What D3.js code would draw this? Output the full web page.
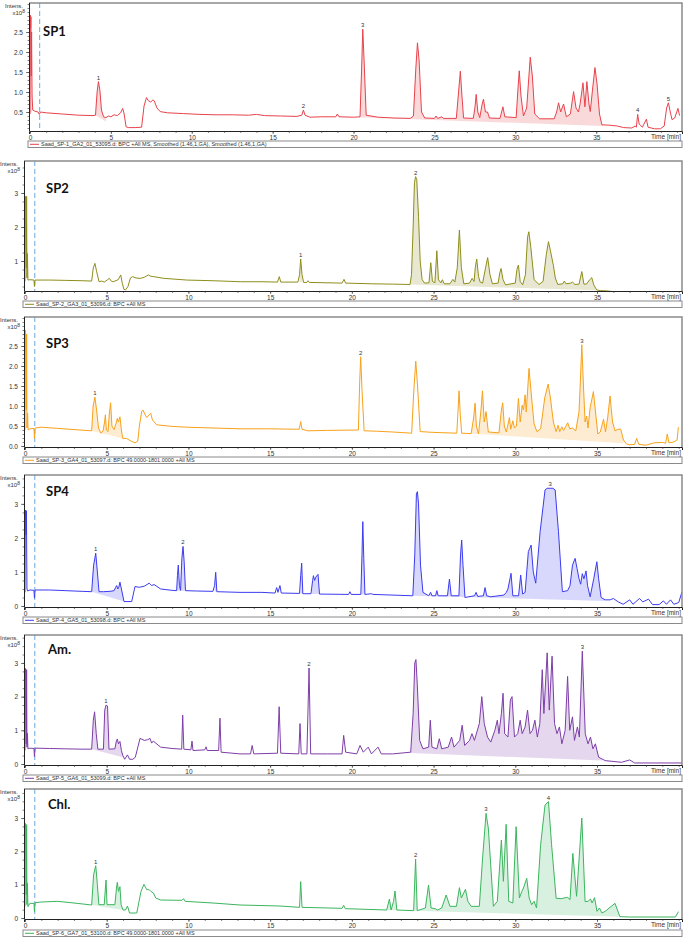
<!DOCTYPE html>
<html><head><meta charset="utf-8">
<script src="https://cdn.jsdelivr.net/npm/d3@7/dist/d3.min.js"></script>
<style>body{margin:0;background:#fff}svg{display:block}</style>
</head><body><svg id="c" width="687" height="938"></svg>
<script>
// ---------- DATA ----------
const panelNames = ["SP1","SP2","SP3","SP4","Am.","Chl."];
const legendTexts = [
 "Saad_SP-1_GA2_01_53095.d: BPC +All MS, Smoothed (1.46,1,GA), Smoothed (1.46,1,GA)",
 "Saad_SP-2_GA3_01_53096.d: BPC +All MS",
 "Saad_SP-3_GA4_01_53097.d: BPC 49.0000-1801.0000 +All MS",
 "Saad_SP-4_GA5_01_53098.d: BPC +All MS",
 "Saad_SP-5_GA6_01_53099.d: BPC +All MS",
 "Saad_SP-6_GA7_01_53100.d: BPC 49.0000-1801.0000 +All MS"];
const xTickLabels = [0,5,10,15,20,25,30,35];
const xMinorTicks = d3.range(0,41,1);
const yTicksSP1 = [0.5,1.0,1.5,2.0,2.5];
const yTicksSP2 = [1,2,3];
const yTicksSP3 = [0.0,0.5,1.0,1.5,2.0,2.5];
const yTicksSP4 = [0,1,2,3];
const yTicksAm = [0,1,2,3];
const yTicksChl = [0,1,2,3];

const sp1 = [[0,0.45],[0.02,2.92],[0.04,2.6],[0.06,2.88],[0.08,1.4],[0.10,2.5],[0.13,0.9],[0.17,0.55],[0.3,0.52],[0.5,0.50],[0.58,0.44],[0.65,0.50],[1.0,0.48],[2.0,0.45],[3.0,0.42],[3.9,0.41],[4.05,0.42],[4.15,1.0],[4.23,1.26],[4.32,1.05],[4.42,0.55],[4.55,0.38],[4.7,0.36],[4.85,0.40],[5.0,0.38],[5.2,0.43],[5.4,0.41],[5.6,0.48],[5.73,0.59],[5.82,0.45],[5.94,0.13],[6.1,0.11],[6.5,0.11],[6.9,0.12],[7.05,0.65],[7.2,0.86],[7.32,0.78],[7.46,0.75],[7.6,0.80],[7.68,0.78],[7.85,0.6],[8.05,0.51],[8.5,0.48],[9.5,0.46],[10.5,0.44],[11.5,0.43],[12.5,0.43],[13.5,0.42],[14.0,0.44],[14.5,0.41],[15.5,0.40],[16.5,0.39],[16.8,0.42],[16.9,0.55],[17.0,0.42],[17.3,0.37],[18.0,0.38],[18.9,0.38],[19.0,0.45],[19.1,0.38],[20.0,0.37],[20.4,0.38],[20.5,1.6],[20.57,2.57],[20.65,1.8],[20.78,0.42],[21.5,0.37],[22.5,0.35],[23.5,0.34],[23.7,0.40],[23.85,1.6],[23.95,2.23],[24.05,1.8],[24.2,0.5],[24.4,0.35],[25.0,0.34],[25.1,0.4],[25.2,0.34],[25.45,0.38],[25.55,0.34],[26.35,0.34],[26.47,0.9],[26.6,1.52],[26.7,0.9],[26.8,0.35],[27.4,0.34],[27.5,0.6],[27.58,0.94],[27.68,0.5],[27.8,0.36],[27.95,0.7],[28.03,0.82],[28.15,0.5],[28.28,0.5],[28.4,0.35],[29.05,0.34],[29.15,0.5],[29.23,0.63],[29.35,0.38],[30.05,0.36],[30.15,1.0],[30.24,1.53],[30.35,0.9],[30.5,0.40],[30.7,0.6],[30.92,1.87],[31.05,1.4],[31.2,0.45],[31.5,0.33],[32.4,0.33],[32.55,0.5],[32.67,0.73],[32.8,0.5],[32.98,0.70],[33.15,0.38],[33.4,0.45],[33.6,1.01],[33.75,0.6],[33.9,0.5],[34.01,0.72],[34.18,1.23],[34.3,0.63],[34.42,1.26],[34.55,0.7],[34.63,0.51],[34.78,1.1],[34.92,1.61],[35.05,1.2],[35.2,0.45],[35.35,0.18],[35.8,0.17],[36.3,0.15],[36.7,0.11],[37.2,0.10],[37.4,0.15],[37.48,0.12],[37.56,0.44],[37.65,0.2],[37.85,0.12],[38.1,0.32],[38.2,0.12],[38.6,0.08],[38.96,0.08],[39.2,0.15],[39.35,0.6],[39.46,0.73],[39.55,0.55],[39.68,0.31],[39.85,0.35],[40.05,0.59],[40.15,0.41]];
const sp2 = [[0,0.4],[0.02,2.9],[0.05,2.8],[0.08,0.8],[0.1,2.9],[0.12,0.5],[0.15,1.22],[0.18,0.44],[0.3,0.45],[0.55,0.44],[0.58,0.25],[0.61,0.44],[1.5,0.44],[2.5,0.43],[3.5,0.42],[4.08,0.41],[4.18,0.8],[4.28,0.93],[4.38,0.7],[4.53,0.39],[4.7,0.41],[4.85,0.38],[5.05,0.45],[5.16,0.49],[5.3,0.4],[5.4,0.39],[5.7,0.45],[5.86,0.59],[5.95,0.35],[6.05,0.17],[6.15,0.15],[6.3,0.25],[6.45,0.5],[6.59,0.54],[6.8,0.5],[7.06,0.49],[7.3,0.52],[7.55,0.59],[7.7,0.55],[7.87,0.54],[8.5,0.49],[9.9,0.44],[11.5,0.42],[13.2,0.39],[14.5,0.39],[15.45,0.38],[15.56,0.54],[15.65,0.38],[16.7,0.38],[16.8,0.6],[16.87,1.06],[16.95,0.6],[17.05,0.37],[17.25,0.37],[17.32,0.42],[17.4,0.37],[19.4,0.35],[19.52,0.46],[19.62,0.35],[21.2,0.33],[22.5,0.32],[23.56,0.31],[23.65,0.6],[23.75,2.0],[23.83,3.3],[23.9,3.48],[23.97,3.4],[24.08,2.3],[24.18,1.0],[24.3,0.45],[24.45,0.35],[24.72,0.36],[24.83,0.95],[24.93,0.4],[25.08,0.36],[25.2,1.3],[25.3,0.45],[25.45,0.36],[25.54,0.45],[25.65,0.33],[26.0,0.33],[26.18,0.46],[26.3,0.38],[26.45,0.8],[26.58,1.91],[26.7,0.8],[26.85,0.33],[27.2,0.35],[27.36,0.49],[27.48,0.4],[27.55,0.8],[27.64,1.06],[27.75,0.55],[27.85,0.38],[28.0,0.35],[28.18,0.8],[28.31,1.1],[28.45,0.6],[28.6,0.33],[28.95,0.35],[29.05,0.65],[29.13,0.78],[29.25,0.45],[29.4,0.30],[30.0,0.35],[30.1,0.75],[30.19,0.88],[30.3,0.4],[30.45,0.30],[30.62,0.6],[30.75,1.7],[30.83,1.86],[30.95,1.4],[31.15,0.45],[31.45,0.31],[31.7,0.4],[31.9,1.2],[32.03,1.57],[32.15,1.3],[32.33,0.87],[32.45,0.5],[32.6,0.31],[32.9,0.33],[33.0,0.41],[33.1,0.33],[33.4,0.35],[33.5,0.38],[33.65,0.31],[33.9,0.32],[34.07,0.69],[34.2,0.32],[34.35,0.32],[34.55,0.45],[34.68,0.51],[34.8,0.3],[34.98,0.15],[35.2,0.13],[35.6,0.12],[36.0,0.10],[40.2,0.10]];
const sp3 = [[0,0.4],[0.02,2.9],[0.05,2.75],[0.08,0.9],[0.1,2.8],[0.12,0.45],[0.16,0.82],[0.19,0.4],[0.3,0.43],[0.55,0.44],[0.58,0.19],[0.62,0.45],[1.0,0.47],[2.0,0.44],[3.0,0.41],[4.08,0.38],[4.17,1.0],[4.28,1.22],[4.38,0.9],[4.5,0.45],[4.65,0.32],[4.78,0.38],[4.87,0.6],[4.92,0.78],[4.98,0.4],[5.08,0.36],[5.16,0.8],[5.24,1.08],[5.32,0.5],[5.45,0.41],[5.6,0.6],[5.65,0.69],[5.72,0.6],[5.81,0.73],[5.9,0.4],[5.98,0.19],[6.2,0.19],[6.5,0.12],[6.73,0.08],[6.9,0.12],[7.0,0.5],[7.14,0.86],[7.22,0.9],[7.35,0.78],[7.45,0.71],[7.6,0.78],[7.69,0.82],[7.8,0.65],[8.06,0.53],[9.0,0.49],[9.9,0.47],[11.5,0.45],[13.16,0.43],[15.0,0.43],[16.4,0.42],[16.78,0.42],[16.87,0.61],[16.95,0.42],[17.3,0.38],[18.5,0.39],[20.4,0.40],[20.48,1.6],[20.54,2.23],[20.62,1.4],[20.75,0.38],[21.5,0.37],[22.5,0.35],[23.66,0.32],[23.78,1.3],[23.91,2.12],[24.02,1.5],[24.18,0.36],[25.0,0.34],[26.42,0.32],[26.5,0.9],[26.56,1.38],[26.63,0.8],[26.72,0.32],[27.3,0.31],[27.45,0.7],[27.54,1.07],[27.62,0.5],[27.75,0.3],[27.9,0.9],[27.99,1.38],[28.1,0.6],[28.21,0.86],[28.35,0.35],[29.0,0.33],[29.15,0.9],[29.23,1.08],[29.33,0.5],[29.45,0.35],[29.64,0.71],[29.72,0.42],[29.85,0.63],[29.95,0.45],[30.07,0.5],[30.19,1.19],[30.3,0.6],[30.42,1.02],[30.5,0.9],[30.6,1.28],[30.67,0.85],[30.84,1.94],[31.0,1.2],[31.15,0.55],[31.32,0.36],[31.55,0.43],[31.8,1.2],[32.01,1.55],[32.15,1.2],[32.33,0.6],[32.5,0.36],[32.62,0.52],[32.72,0.36],[32.85,0.48],[32.95,0.39],[33.1,0.5],[33.21,0.58],[33.33,0.43],[33.5,0.45],[33.7,0.38],[33.9,0.86],[33.98,1.6],[34.07,2.53],[34.17,1.5],[34.27,0.6],[34.37,0.75],[34.45,0.45],[34.58,0.96],[34.78,1.36],[34.92,0.8],[35.05,0.3],[35.2,0.35],[35.4,0.67],[35.52,0.35],[35.65,0.7],[35.8,1.25],[35.95,0.6],[36.1,0.38],[36.3,0.42],[36.45,0.42],[36.62,0.15],[36.8,0.05],[37.0,0.03],[37.3,0.04],[37.43,0.19],[37.55,0.04],[38.0,0.02],[38.5,0.08],[39.0,0.09],[39.2,0.07],[39.3,0.3],[39.4,0.08],[39.7,0.1],[39.9,0.15],[39.98,0.47]];
const sp4 = [[0,0.4],[0.02,2.82],[0.05,2.6],[0.07,2.09],[0.09,2.8],[0.12,0.5],[0.16,0.44],[0.3,0.47],[0.55,0.46],[0.58,0.23],[0.62,0.47],[1.5,0.47],[2.5,0.45],[3.5,0.43],[4.08,0.42],[4.2,1.2],[4.33,1.55],[4.43,1.0],[4.53,0.42],[4.8,0.42],[5.2,0.43],[5.45,0.45],[5.55,0.55],[5.61,0.6],[5.68,0.5],[5.74,0.55],[5.81,0.7],[5.9,0.5],[6.06,0.13],[6.3,0.13],[6.53,0.13],[6.73,0.57],[7.0,0.55],[7.3,0.58],[7.6,0.67],[7.75,0.6],[7.9,0.63],[8.3,0.5],[9.0,0.46],[9.28,0.45],[9.33,0.9],[9.38,1.2],[9.45,0.6],[9.52,0.46],[9.6,1.4],[9.67,1.75],[9.74,1.3],[9.82,0.45],[10.5,0.44],[11.5,0.43],[11.6,0.6],[11.67,0.99],[11.74,0.42],[13.16,0.4],[14.5,0.4],[15.3,0.38],[15.4,0.54],[15.48,0.4],[15.6,0.6],[15.68,0.38],[16.8,0.37],[16.87,0.9],[16.93,1.26],[17.0,0.36],[17.5,0.36],[17.6,0.75],[17.65,0.89],[17.72,0.75],[17.8,0.85],[17.93,0.93],[18.02,0.35],[19.8,0.34],[19.88,0.42],[19.96,0.34],[20.55,0.34],[20.62,1.5],[20.67,2.48],[20.73,1.4],[20.8,0.34],[21.2,0.36],[21.3,0.34],[23.73,0.3],[23.85,1.5],[23.95,3.3],[24.01,3.36],[24.08,3.0],[24.2,1.2],[24.35,0.4],[24.7,0.3],[24.82,0.4],[24.9,0.3],[25.12,0.3],[25.2,0.45],[25.28,0.3],[25.85,0.3],[25.97,0.79],[26.08,0.3],[26.55,0.3],[26.65,1.5],[26.72,1.94],[26.8,1.2],[26.92,0.25],[27.5,0.3],[27.6,0.4],[27.7,0.28],[28.05,0.3],[28.15,0.54],[28.25,0.3],[28.5,0.27],[29.3,0.32],[29.45,0.4],[29.55,0.5],[29.74,0.96],[29.85,0.3],[30.2,0.3],[30.33,0.91],[30.45,0.35],[30.6,0.4],[30.8,1.6],[30.97,1.79],[31.1,1.0],[31.25,0.67],[31.52,2.19],[31.82,3.41],[31.95,3.46],[32.13,3.46],[32.3,3.46],[32.44,3.41],[32.64,2.19],[32.88,0.42],[33.2,0.45],[33.35,0.6],[33.5,1.2],[33.66,1.4],[33.78,1.1],[33.9,0.8],[34.0,0.64],[34.1,0.95],[34.2,0.8],[34.33,1.03],[34.42,0.6],[34.58,0.27],[34.8,0.8],[34.99,1.3],[35.1,0.8],[35.25,0.25],[35.5,0.18],[35.8,0.18],[36.0,0.22],[36.3,0.12],[36.6,0.05],[37.0,0.18],[37.2,0.05],[37.6,0.22],[37.8,0.12],[38.15,0.2],[38.4,0.04],[38.8,0.04],[39.06,0.15],[39.25,0.05],[39.5,0.18],[39.7,0.05],[40.0,0.1],[40.2,0.42]];
const spAm = [[0,0.4],[0.02,2.84],[0.05,2.7],[0.08,0.6],[0.1,2.8],[0.12,0.5],[0.15,0.91],[0.18,0.45],[0.3,0.47],[0.55,0.46],[0.58,0.22],[0.62,0.47],[1.5,0.46],[2.5,0.45],[3.5,0.44],[4.08,0.44],[4.18,1.3],[4.26,1.55],[4.36,0.9],[4.46,0.44],[4.8,0.44],[4.88,1.6],[4.96,1.75],[5.05,1.72],[5.14,0.44],[5.5,0.45],[5.6,0.7],[5.65,0.74],[5.72,0.6],[5.81,0.67],[5.9,0.4],[5.98,0.26],[6.1,0.14],[6.27,0.27],[6.4,0.14],[6.6,0.14],[6.75,0.2],[7.04,0.76],[7.3,0.7],[7.5,0.72],[7.65,0.76],[7.75,0.62],[7.85,0.68],[8.3,0.5],[9.0,0.46],[9.59,0.44],[9.65,1.45],[9.72,0.44],[10.15,0.42],[10.22,0.68],[10.28,0.4],[11.0,0.42],[11.08,0.51],[11.15,0.4],[11.85,0.4],[11.93,1.36],[12.0,0.35],[13.16,0.3],[13.8,0.3],[13.9,0.55],[14.0,0.3],[15.45,0.32],[15.55,1.7],[15.65,0.32],[16.75,0.3],[16.83,1.2],[16.9,0.3],[17.25,0.3],[17.38,2.85],[17.48,0.3],[18.5,0.3],[19.4,0.3],[19.5,0.85],[19.62,0.35],[20.3,0.3],[20.5,0.55],[20.7,0.35],[21.0,0.5],[21.2,0.3],[21.6,0.5],[21.8,0.3],[22.5,0.3],[23.6,0.35],[23.75,1.5],[23.85,3.0],[23.92,3.1],[24.0,2.4],[24.15,0.7],[24.35,0.45],[24.7,0.5],[24.8,1.3],[24.9,0.5],[25.2,0.45],[25.35,0.75],[25.5,0.45],[25.9,0.5],[26.1,0.8],[26.25,0.5],[26.6,0.7],[26.75,1.15],[26.9,0.55],[27.2,0.7],[27.35,0.9],[27.5,0.7],[27.8,1.2],[27.95,2.0],[28.1,1.2],[28.3,0.8],[28.5,0.65],[28.75,1.0],[28.9,1.3],[29.0,0.9],[29.15,1.5],[29.25,2.1],[29.35,0.9],[29.55,0.8],[29.7,1.9],[29.8,2.0],[29.95,0.8],[30.15,0.9],[30.3,1.3],[30.42,0.9],[30.6,1.1],[30.75,1.6],[30.9,0.9],[31.05,1.0],[31.2,1.3],[31.35,0.8],[31.5,1.2],[31.65,2.8],[31.75,1.5],[31.95,3.3],[32.08,1.6],[32.25,3.2],[32.4,1.2],[32.55,0.9],[32.7,1.1],[32.85,0.6],[33.05,1.0],[33.2,2.6],[33.33,1.0],[33.5,1.4],[33.62,0.7],[33.8,1.1],[33.92,0.8],[34.1,3.35],[34.28,0.9],[34.45,0.6],[34.6,0.8],[34.75,0.45],[34.9,0.6],[35.1,0.2],[35.5,0.1],[36.5,0.05],[37.0,0.12],[37.3,0.03],[40.2,0.03]];
const spChl = [[0,0.35],[0.02,2.84],[0.05,2.7],[0.08,0.7],[0.1,2.8],[0.12,0.4],[0.15,1.04],[0.18,0.34],[0.3,0.44],[0.55,0.44],[0.58,0.19],[0.62,0.46],[1.0,0.48],[2.0,0.5],[3.0,0.45],[4.08,0.39],[4.2,1.3],[4.33,1.57],[4.43,1.0],[4.52,0.4],[4.85,0.4],[4.92,0.9],[4.96,1.14],[5.02,0.4],[5.5,0.4],[5.6,0.9],[5.65,1.07],[5.72,0.8],[5.81,0.94],[5.88,0.4],[6.0,0.24],[6.15,0.24],[6.27,0.36],[6.4,0.15],[6.84,0.15],[7.1,0.8],[7.28,1.01],[7.45,0.85],[7.6,0.85],[7.7,0.8],[7.86,0.75],[8.0,0.6],[8.3,0.54],[9.6,0.53],[9.7,0.58],[9.8,0.5],[11.5,0.45],[13.16,0.39],[15.6,0.36],[16.8,0.32],[16.87,1.09],[16.95,0.32],[19.4,0.29],[19.5,0.38],[19.6,0.28],[22.13,0.24],[22.3,0.57],[22.4,0.24],[22.55,0.5],[22.64,0.81],[22.75,0.24],[23.78,0.22],[23.9,1.77],[24.0,0.22],[24.5,0.3],[24.69,0.99],[24.85,0.3],[25.1,0.28],[25.25,0.24],[25.5,0.3],[25.77,0.69],[26.0,0.35],[26.4,0.35],[26.58,0.91],[26.7,0.6],[26.95,0.86],[27.1,0.5],[27.3,0.35],[27.8,0.35],[28.0,1.8],[28.21,3.14],[28.35,2.7],[28.66,0.35],[28.9,0.5],[29.15,2.34],[29.27,1.1],[29.44,2.81],[29.6,0.5],[29.85,0.45],[30.05,2.74],[30.25,0.6],[30.4,0.8],[30.5,0.9],[30.7,1.19],[30.85,0.6],[31.0,0.4],[31.15,0.5],[31.3,0.3],[31.55,2.2],[31.82,3.39],[32.03,3.49],[32.22,2.2],[32.5,0.59],[32.8,0.58],[33.2,0.62],[33.35,0.55],[33.52,1.94],[33.75,0.65],[34.07,3.0],[34.27,0.49],[34.45,0.5],[34.6,0.57],[34.7,0.45],[34.85,0.61],[35.0,0.2],[35.15,0.3],[35.3,0.15],[35.5,0.2],[36.1,0.44],[36.4,0.04],[37.0,0.03],[39.8,0.03],[39.98,0.19]];

const peaksSP1 = [[4.23,1.26,"1"],[16.9,0.55,"2"],[20.57,2.57,"3"],[37.56,0.44,"4"],[39.46,0.73,"5"]];
const peaksSP2 = [[16.87,1.06,"1"],[23.9,3.48,"2"]];
const peaksSP3 = [[4.28,1.22,"1"],[20.54,2.23,"2"],[34.07,2.53,"3"]];
const peaksSP4 = [[4.33,1.55,"1"],[9.67,1.75,"2"],[32.13,3.46,"3"]];
const peaksAm = [[4.96,1.75,"1"],[17.38,2.85,"2"],[34.1,3.35,"3"]];
const peaksChl = [[4.33,1.57,"1"],[23.9,1.77,"2"],[28.21,3.14,"3"],[32.03,3.49,"4"]];

// integration areas: [tStart, baseStart, tEnd, baseEnd]
const fillsSP1 = [[0,0.45,0.17,0.55],[4.08,0.41,4.7,0.26],[20.3,0.37,35.4,0.15]];
const fillsSP2 = [[16.8,0.38,16.98,0.37],[23.56,0.31,35.2,0.13]];
const fillsSP3 = [[4.08,0.38,6.0,0.19],[26.9,0.32,36.62,0.07]];
const fillsSP4 = [[4.08,0.42,6.06,0.13],[9.28,0.45,9.82,0.45],[11.6,0.43,11.74,0.42],[16.85,0.37,17.0,0.36],[17.55,0.36,18.02,0.35],[20.58,0.34,20.8,0.34],[23.73,0.30,35.5,0.15]];
const fillsAm = [[4.08,0.44,6.0,0.2],[23.6,0.33,35.3,0.1]];
const fillsChl = [[4.08,0.39,6.0,0.24],[22.1,0.24,36.4,0.04]];

const lineColors = ["#e8434c","#8e8e1c","#f7a21b","#3b3bf0","#7d3ea8","#3cb55e"];

// ---------- LAYOUT ----------
const traces = [sp1,sp2,sp3,sp4,spAm,spChl];
const peaks = [peaksSP1,peaksSP2,peaksSP3,peaksSP4,peaksAm,peaksChl];
const fills = [fillsSP1,fillsSP2,fillsSP3,fillsSP4,fillsAm,fillsChl];
const yTicks = [yTicksSP1,yTicksSP2,yTicksSP3,yTicksSP4,yTicksAm,yTicksChl];
const layout = [
 {top:3, axisY:131, yMin:0.025, yMax:3.225, left:29, x0:-0.06, x1:40.3, tx:43, ty:36, ly:141, fmt:".1f", ystep:0.1},
 {top:161, axisY:291, yMin:0.118, yMax:3.94, left:24, x0:-0.06, x1:40.2, tx:46, ty:193, ly:301, fmt:"d", ystep:0.25},
 {top:317, axisY:447, yMin:-0.025, yMax:3.225, left:24, x0:-0.06, x1:40.2, tx:46, ty:348, ly:457, fmt:".1f", ystep:0.1},
 {top:475, axisY:607, yMin:-0.03, yMax:3.85, left:24, x0:-0.06, x1:40.2, tx:46, ty:496, ly:617, fmt:"d", ystep:0.25},
 {top:635, axisY:765, yMin:-0.03, yMax:3.83, left:24, x0:-0.06, x1:40.2, tx:48, ty:654, ly:775, fmt:"d", ystep:0.25},
 {top:789, axisY:919, yMin:-0.03, yMax:3.87, left:24, x0:-0.06, x1:40.2, tx:48, ty:809, ly:930, fmt:"d", ystep:0.25}
];
const RIGHT = 682;
const svg = d3.select("#c");
const font = "'Liberation Sans', Arial, sans-serif";

function interp(tr, t){
  for(let i=0;i<tr.length-1;i++){
    if(tr[i][0]<=t && t<=tr[i+1][0]){
      const f=(t-tr[i][0])/((tr[i+1][0]-tr[i][0])||1);
      return tr[i][1]+f*(tr[i+1][1]-tr[i][1]);
    }
  }
  return tr[tr.length-1][1];
}

layout.forEach((L,k)=>{
  const g = svg.append("g");
  const xs = d3.scaleLinear().domain([L.x0,L.x1]).range([L.left,RIGHT]);
  const ys = d3.scaleLinear().domain([L.yMin,L.yMax]).range([L.axisY,L.top]);
  const col = lineColors[k];
  const cid = "clip"+k;
  g.append("clipPath").attr("id",cid).append("rect")
    .attr("x",L.left).attr("y",L.top).attr("width",RIGHT-L.left).attr("height",L.axisY-L.top);
  const plot = g.append("g").attr("clip-path",`url(#${cid})`);
  const line = d3.line().x(d=>xs(d[0])).y(d=>ys(d[1]));
  const tr = traces[k];
  fills[k].forEach(s=>{
    const [t0,b0,t1,b1]=s;
    const pts=[[t0,interp(tr,t0)]].concat(tr.filter(p=>p[0]>t0&&p[0]<t1)).concat([[t1,interp(tr,t1)],[t1,b1],[t0,b0]]);
    plot.append("path").attr("d",line(pts)+"Z").attr("fill",col).attr("fill-opacity",0.2).attr("stroke","none");
  });
  plot.append("line").attr("x1",xs(0.6)).attr("x2",xs(0.6)).attr("y1",L.top).attr("y2",L.axisY)
    .attr("stroke","#6fa8dc").attr("stroke-width",1).attr("stroke-dasharray","5,3");
  plot.append("path").attr("d",line(tr)).attr("fill","none").attr("stroke",col).attr("stroke-width",1)
    .attr("stroke-linejoin","round");
  g.append("path").attr("d",`M${L.left},${L.top}H${RIGHT}V${L.axisY}`).attr("fill","none")
    .attr("stroke","#8a8a8a").attr("stroke-width",1.5);
  const ax = g.append("g").attr("transform",`translate(0,${L.axisY})`)
    .call(d3.axisBottom(xs).tickValues(xTickLabels).tickSize(3).tickPadding(1).tickFormat(d3.format("d")));
  const axm = g.append("g").attr("transform",`translate(0,${L.axisY})`)
    .call(d3.axisBottom(xs).tickValues(xMinorTicks).tickSize(2).tickFormat(""));
  axm.select(".domain").remove();
  const ay = g.append("g").attr("transform",`translate(${L.left},0)`)
    .call(d3.axisLeft(ys).tickValues(yTicks[k]).tickSize(3).tickPadding(3).tickFormat(d3.format(L.fmt)));
  const minorY = d3.range(Math.ceil(L.yMin/L.ystep)*L.ystep, L.yMax, L.ystep);
  const aym = g.append("g").attr("transform",`translate(${L.left},0)`)
    .call(d3.axisLeft(ys).tickValues(minorY).tickSize(1.5).tickFormat(""));
  aym.select(".domain").remove();
  [ax,axm,ay,aym].forEach(a=>{
    a.selectAll("path.domain").attr("stroke","#222").attr("stroke-width",1);
    a.selectAll(".tick line").attr("stroke","#333").attr("stroke-width",0.6);
    a.selectAll("text").attr("font-family",font).attr("font-size",6.5).attr("fill","#333");
  });
  ay.select(".domain").attr("d",`M0.5,${L.top}V${L.axisY}`);
  g.append("text").attr("x",L.left-6).attr("y",L.top+5).attr("text-anchor","end")
    .attr("font-family",font).attr("font-size",6).attr("fill","#333").text("Intens.");
  const xt = g.append("text").attr("x",L.left-4).attr("y",L.top+12).attr("text-anchor","end")
    .attr("font-family",font).attr("font-size",6).attr("fill","#333");
  xt.append("tspan").text("x10");
  xt.append("tspan").attr("dy",-2.5).attr("font-size",5).text("8");
  g.append("text").attr("x",RIGHT-1).attr("y",L.axisY+8).attr("text-anchor","end")
    .attr("font-family",font).attr("font-size",6.5).attr("fill","#333").text("Time [min]");
  g.append("text").attr("x",L.tx).attr("y",L.ty).attr("font-family","Lato, 'Open Sans', sans-serif")
    .attr("font-weight",700).attr("font-size",13).attr("fill","#111").text(panelNames[k]);
  peaks[k].forEach(p=>{
    g.append("text").attr("x",xs(p[0])).attr("y",ys(p[1])-2).attr("text-anchor","middle")
      .attr("font-family",font).attr("font-size",6).attr("fill","#333").text(p[2]);
  });
  g.append("rect").attr("x",L.left-1).attr("y",L.ly).attr("width",RIGHT-L.left+1).attr("height",6.5)
    .attr("fill","#fff").attr("stroke","#8a8a8a").attr("stroke-width",1);
  g.append("line").attr("x1",L.left+1).attr("x2",L.left+10).attr("y1",L.ly+3.3).attr("y2",L.ly+3.3)
    .attr("stroke",col).attr("stroke-width",1);
  g.append("text").attr("x",L.left+12).attr("y",L.ly+5.3).attr("font-family",font).attr("font-size",5.5)
    .attr("fill","#333").text(legendTexts[k]);
});
</script></body></html>
